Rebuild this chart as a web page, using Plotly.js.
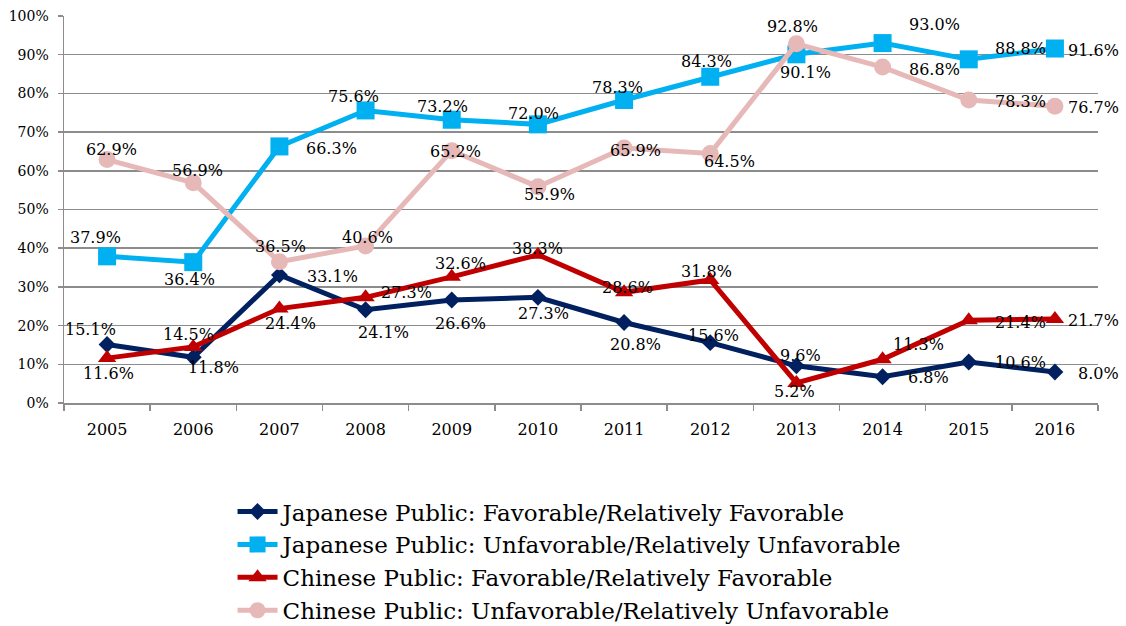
<!DOCTYPE html>
<html>
<head>
<meta charset="utf-8">
<script src="https://cdn.plot.ly/plotly-3.0.1.min.js"></script>
<style>html,body{margin:0;padding:0;background:#fff;}#chart{width:1126px;height:626px;}</style>
</head>
<body>
<div id="chart"></div>
<script>
const years = ["2005","2006","2007","2008","2009","2010","2011","2012","2013","2014","2015","2016"];
const jpFavorable   = [15.1, 11.8, 33.1, 24.1, 26.6, 27.3, 20.8, 15.6, 9.6, 6.8, 10.6, 8.0];
const jpUnfavorable = [37.9, 36.4, 66.3, 75.6, 73.2, 72.0, 78.3, 84.3, 90.1, 93.0, 88.8, 91.6];
const cnFavorable   = [11.6, 14.5, 24.4, 27.3, 32.6, 38.3, 28.6, 31.8, 5.2, 11.3, 21.4, 21.7];
const cnUnfavorable = [62.9, 56.9, 36.5, 40.6, 65.2, 55.9, 65.9, 64.5, 92.8, 86.8, 78.3, 76.7];
const seriesNames = [
  "Japanese Public: Favorable/Relatively Favorable",
  "Japanese Public: Unfavorable/Relatively Unfavorable",
  "Chinese Public: Favorable/Relatively Favorable",
  "Chinese Public: Unfavorable/Relatively Unfavorable"
];

// label pixel offsets [dx, dy(down)] — styling only
const labelOffsets = [
  [[-17,-15],[20,10],[53,2],[18,23],[9,23],[6,16],[11,22],[3,-7],[4,-10],[46,1],[52,1],[44,1]],
  [[-12,-19],[-4,17],[52,2],[-12,-14],[-9,-13],[-4,-11],[-7,-12],[-4,-15],[9,18],[52,-19],[52,-11],[39,2]],
  [[1,15],[-5,-12],[11,15],[41,-5],[9,-13],[0,-6],[3,-5],[-4,-8],[-2,9],[36,-15],[52,2],[39,1]],
  [[4,-10],[4,-12],[1,-15],[2,-8],[4,1],[12,8],[11,3],[19,8],[-4,-17],[52,2],[52,2],[39,1]]
];

const seriesValues = [jpFavorable, jpUnfavorable, cnFavorable, cnUnfavorable];
const colors = ["#002060", "#00B0F0", "#C00000", "#E6B9B8"];
const symbols = ["diamond", "square", "triangle-up", "circle"];
const sizes = [13, 18, 16, 17];

const traces = seriesValues.map((vals, i) => ({
  type: "scatter",
  mode: "lines+markers",
  name: seriesNames[i],
  x: years,
  y: vals,
  line: {color: colors[i], width: 5},
  marker: {color: colors[i], symbol: symbols[i], size: sizes[i]},
  hoverinfo: "skip"
}));

const annotations = [];
seriesValues.forEach((vals, i) => {
  vals.forEach((v, j) => {
    annotations.push({
      x: j, y: v, xref: "x", yref: "y",   // j = category index of years[j]
      text: v.toFixed(1) + "%",
      showarrow: false,
      xshift: labelOffsets[i][j][0],
      yshift: -labelOffsets[i][j][1],
      font: {family: "DejaVu Serif", size: 16, color: "#000"}
    });
  });
});

const layout = {
  width: 1126, height: 626,
  margin: {l: 64, r: 28, t: 16, b: 223, autoexpand: false},
  paper_bgcolor: "#fff", plot_bgcolor: "#fff",
  showlegend: true,
  legend: {
    x: 0.163, xanchor: "left", y: -0.225, yanchor: "top",
    font: {family: "DejaVu Serif", size: 23, color: "#000"},
    tracegroupgap: 0, itemwidth: 40, bgcolor: "rgba(0,0,0,0)"
  },
  xaxis: {
    type: "category", range: [-0.5, 11.5],
    showgrid: false, showline: true, linecolor: "#8c8c8c", linewidth: 1.5,
    ticks: "outside", tickson: "boundaries", ticklen: 6, tickcolor: "#8c8c8c", tickwidth: 1.5,
    ticklabelstandoff: 11,
    tickfont: {family: "DejaVu Serif", size: 16, color: "#000"}
  },
  yaxis: {
    range: [0, 100], dtick: 10, ticksuffix: "%",
    showgrid: true, gridcolor: "#8c8c8c", gridwidth: 1.5,
    showline: true, linecolor: "#8c8c8c", linewidth: 1.5,
    ticks: "outside", ticklen: 5, tickcolor: "#8c8c8c", tickwidth: 1.5,
    ticklabelstandoff: 6,
    zeroline: false,
    tickfont: {family: "DejaVu Serif", size: 14, color: "#000"}
  },
  annotations: annotations
};

Plotly.newPlot("chart", traces, layout, {displayModeBar: false, staticPlot: true});
</script>
</body>
</html>
